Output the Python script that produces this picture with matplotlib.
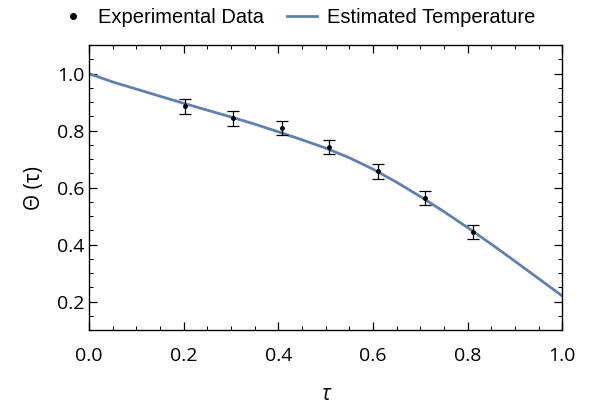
import numpy as np
import matplotlib.pyplot as plt
from matplotlib.lines import Line2D
from matplotlib.ticker import MultipleLocator

# measured points
tau_data = [0.204, 0.304, 0.407, 0.508, 0.610, 0.710, 0.811]
theta_data = [0.885, 0.843, 0.808, 0.743, 0.657, 0.564, 0.443]
theta_err = [0.025, 0.025, 0.025, 0.025, 0.025, 0.025, 0.025]

# estimated temperature curve
tau_curve = [0.00, 0.05, 0.10, 0.15, 0.20, 0.25, 0.30, 0.35, 0.40, 0.45, 0.50,
             0.55, 0.60, 0.65, 0.70, 0.75, 0.80, 0.85, 0.90, 0.95, 1.00]
theta_curve = [1.000, 0.971, 0.946, 0.921, 0.896, 0.872, 0.848, 0.823, 0.796, 0.768, 0.739,
               0.705, 0.665, 0.619, 0.569, 0.516, 0.460, 0.402, 0.342, 0.281, 0.220]

x_ticks = [0.0, 0.2, 0.4, 0.6, 0.8, 1.0]
y_ticks = [0.2, 0.4, 0.6, 0.8, 1.0]

line_color = "#5E81B5"

plt.rcParams["font.family"] = ["Open Sans", "DejaVu Sans"]

fig = plt.figure(figsize=(5.93, 4.07), dpi=100)
ax = fig.add_axes([0.150, 0.189, 0.798, 0.700])

ax.plot(tau_curve, theta_curve, color=line_color, lw=2.0, zorder=2)
ax.errorbar(tau_data, theta_data, yerr=theta_err, fmt="o", color="black",
            ms=2.5, elinewidth=0.9, capsize=4, capthick=0.9, zorder=3)

ax.set_xlim(0, 1)
ax.set_ylim(0.1, 1.1)
ax.set_xticks(x_ticks)
ax.set_xticklabels(["%.1f" % v for v in x_ticks])
ax.set_yticks(y_ticks)
ax.set_yticklabels(["%.1f" % v for v in y_ticks])
ax.xaxis.set_minor_locator(MultipleLocator(0.05))
ax.yaxis.set_minor_locator(MultipleLocator(0.05))
ax.tick_params(which="both", direction="in", top=True, right=True, labelsize=14)
ax.tick_params(which="major", length=6, width=0.9)
ax.tick_params(which="minor", length=3, width=0.7)
ax.tick_params(axis="x", pad=12)
for s in ax.spines.values():
    s.set_linewidth(1.0)

ax.set_xlabel("τ", fontsize=15, fontstyle="italic", labelpad=14)
ax.set_ylabel("Θ (τ)", fontsize=15, labelpad=8)

handles = [
    Line2D([], [], marker="o", color="black", ls="none", ms=4),
    Line2D([], [], color=line_color, lw=2.0),
]
fig.legend(handles, ["Experimental Data", "Estimated Temperature"],
           loc="center", bbox_to_anchor=(0.5, 0.958), ncol=2, frameon=False,
           prop={"family": "Liberation Sans", "size": 14.5},
           handlelength=1.5, handletextpad=0.5, columnspacing=1.15)

fig.savefig("out.png", dpi=100)
